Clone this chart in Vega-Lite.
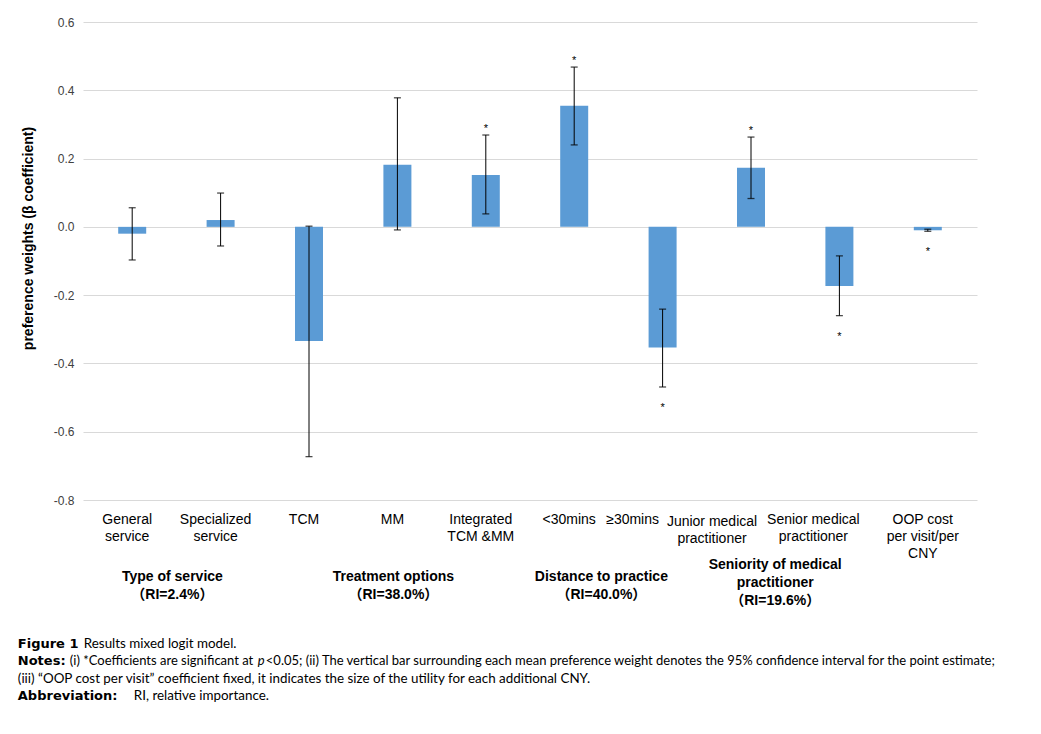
{
  "$schema": "https://vega.github.io/schema/vega-lite/v6.json",
  "width": 894,
  "height": 478,
  "autosize": {"type": "none"},
  "padding": {"left": 83, "top": 22, "right": 64, "bottom": 234},
  "background": "white",
  "config": {"view": {"stroke": null}, "font": "Liberation Sans"},
  "datasets": {
    "coef": [
      {"pos": 1, "attr": "General service", "label": "General\nservice", "group": "Type of service\n（RI=2.4%）", "est": -0.02, "lo": -0.097, "hi": 0.056, "sig": ""},
      {"pos": 2, "attr": "Specialized service", "label": "Specialized\nservice", "group": "Type of service\n（RI=2.4%）", "est": 0.02, "lo": -0.056, "hi": 0.099, "sig": ""},
      {"pos": 3, "attr": "TCM", "label": "TCM", "group": "Treatment options\n（RI=38.0%）", "est": -0.334, "lo": -0.673, "hi": 0.002, "sig": ""},
      {"pos": 4, "attr": "MM", "label": "MM", "group": "Treatment options\n（RI=38.0%）", "est": 0.182, "lo": -0.009, "hi": 0.378, "sig": ""},
      {"pos": 5, "attr": "Integrated TCM &MM", "label": "Integrated\nTCM &MM", "group": "Treatment options\n（RI=38.0%）", "est": 0.152, "lo": 0.038, "hi": 0.269, "sig": "*"},
      {"pos": 6, "attr": "<30mins", "label": "<30mins", "group": "Distance to practice\n（RI=40.0%）", "est": 0.355, "lo": 0.24, "hi": 0.468, "sig": "*"},
      {"pos": 7, "attr": "≥30mins", "label": "≥30mins", "group": "Distance to practice\n（RI=40.0%）", "est": -0.353, "lo": -0.469, "hi": -0.241, "sig": "*"},
      {"pos": 8, "attr": "Junior medical practitioner", "label": "Junior medical\npractitioner", "group": "Seniority of medical\npractitioner\n（RI=19.6%）", "est": 0.173, "lo": 0.083, "hi": 0.263, "sig": "*"},
      {"pos": 9, "attr": "Senior medical practitioner", "label": "Senior medical\npractitioner", "group": "Seniority of medical\npractitioner\n（RI=19.6%）", "est": -0.173, "lo": -0.26, "hi": -0.085, "sig": "*"},
      {"pos": 10, "attr": "OOP cost per visit/per CNY", "label": "OOP cost\nper visit/per\nCNY", "group": "", "est": -0.01, "lo": -0.013, "hi": -0.007, "sig": "*"}
    ],
    "note": [{"k": 1}]
  },
  "layer": [
    {
      "data": {"name": "coef"},
      "mark": {"type": "bar", "size": 28, "color": "#5B9BD5"},
      "encoding": {
        "x": {"field": "pos", "type": "quantitative", "scale": {"domain": [0.5, 10.5], "nice": false, "zero": false}, "axis": null},
        "y": {
          "field": "est", "type": "quantitative",
          "scale": {"domain": [-0.8, 0.6], "nice": false, "zero": false},
          "axis": {
            "title": "preference weights (β coefficient)",
            "values": [-0.8, -0.6, -0.4, -0.2, 0, 0.2, 0.4, 0.6],
            "format": ".1f",
            "labelExpr": "replace(datum.label, '−', '-')",
            "labelFontSize": 12,
            "labelColor": "#404040",
            "labelPadding": 9,
            "grid": true,
            "gridColor": "#d9d9d9",
            "gridWidth": 1,
            "domain": false,
            "ticks": false,
            "tickSize": 0,
            "titleFontSize": 14,
            "titleFontWeight": "bold",
            "titleColor": "#000000",
            "titlePadding": 18,
            "titleY": 216
          }
        }
      }
    },
    {
      "data": {"name": "coef"},
      "mark": {"type": "rule", "color": "#000000", "strokeWidth": 1},
      "encoding": {"x": {"field": "pos", "type": "quantitative"}, "y": {"field": "lo", "type": "quantitative"}, "y2": {"field": "hi"}}
    },
    {
      "data": {"name": "coef"},
      "mark": {"type": "tick", "orient": "horizontal", "size": 7, "thickness": 1.3, "color": "#000000"},
      "encoding": {"x": {"field": "pos", "type": "quantitative"}, "y": {"field": "lo", "type": "quantitative"}}
    },
    {
      "data": {"name": "coef"},
      "mark": {"type": "tick", "orient": "horizontal", "size": 7, "thickness": 1.3, "color": "#000000"},
      "encoding": {"x": {"field": "pos", "type": "quantitative"}, "y": {"field": "hi", "type": "quantitative"}}
    },
    {
      "data": {"name": "coef"},
      "transform": [{"filter": "datum.sig == '*' && datum.est > 0"}],
      "mark": {"type": "text", "fontSize": 11, "baseline": "alphabetic", "dy": -3, "color": "#000000"},
      "encoding": {"x": {"field": "pos", "type": "quantitative"}, "y": {"field": "hi", "type": "quantitative"}, "text": {"field": "sig"}}
    },
    {
      "data": {"name": "coef"},
      "transform": [{"filter": "datum.sig == '*' && datum.est < 0"}],
      "mark": {"type": "text", "fontSize": 11, "baseline": "alphabetic", "dy": 24, "color": "#000000"},
      "encoding": {"x": {"field": "pos", "type": "quantitative"}, "y": {"field": "lo", "type": "quantitative"}, "text": {"field": "sig"}}
    },
    {
      "data": {"name": "coef"},
      "transform": [{"filter": "datum.pos < 7 || datum.pos > 9"}],
      "mark": {"type": "text", "baseline": "top", "align": "center", "lineBreak": "\n", "fontSize": 14, "lineHeight": 17, "color": "#000000", "dx": -5},
      "encoding": {"x": {"field": "pos", "type": "quantitative"}, "y": {"datum": -0.838}, "text": {"field": "label"}}
    },
    {
      "data": {"name": "coef"},
      "transform": [{"filter": "datum.pos == 7"}],
      "mark": {"type": "text", "baseline": "top", "align": "center", "lineBreak": "\n", "fontSize": 14, "lineHeight": 17, "color": "#000000", "dx": -30},
      "encoding": {"x": {"field": "pos", "type": "quantitative"}, "y": {"datum": -0.838}, "text": {"field": "label"}}
    },
    {
      "data": {"name": "coef"},
      "transform": [{"filter": "datum.pos == 8"}],
      "mark": {"type": "text", "baseline": "top", "align": "center", "lineBreak": "\n", "fontSize": 14, "lineHeight": 17, "color": "#000000", "dx": -39},
      "encoding": {"x": {"field": "pos", "type": "quantitative"}, "y": {"datum": -0.844}, "text": {"field": "label"}}
    },
    {
      "data": {"name": "coef"},
      "transform": [{"filter": "datum.pos == 9"}],
      "mark": {"type": "text", "baseline": "top", "align": "center", "lineBreak": "\n", "fontSize": 14, "lineHeight": 17, "color": "#000000", "dx": -26},
      "encoding": {"x": {"field": "pos", "type": "quantitative"}, "y": {"datum": -0.838}, "text": {"field": "label"}}
    },
    {
      "data": {"name": "coef"},
      "transform": [
        {"filter": "datum.group != '' && datum.pos < 6"},
        {"aggregate": [{"op": "mean", "field": "pos", "as": "pos"}], "groupby": ["group"]}
      ],
      "mark": {"type": "text", "baseline": "middle", "align": "center", "lineBreak": "\n", "fontSize": 14, "fontWeight": "bold", "lineHeight": 18, "color": "#000000", "font": "Liberation Sans, Noto Sans CJK SC", "dx": -4},
      "encoding": {"x": {"field": "pos", "type": "quantitative"}, "y": {"datum": -1.0267}, "text": {"field": "group"}}
    },
    {
      "data": {"name": "coef"},
      "transform": [
        {"filter": "datum.group != '' && (datum.pos == 6 || datum.pos == 7)"},
        {"aggregate": [{"op": "mean", "field": "pos", "as": "pos"}], "groupby": ["group"]}
      ],
      "mark": {"type": "text", "baseline": "middle", "align": "center", "lineBreak": "\n", "fontSize": 14, "fontWeight": "bold", "lineHeight": 18, "color": "#000000", "font": "Liberation Sans, Noto Sans CJK SC", "dx": -17},
      "encoding": {"x": {"field": "pos", "type": "quantitative"}, "y": {"datum": -1.0267}, "text": {"field": "group"}}
    },
    {
      "data": {"name": "coef"},
      "transform": [
        {"filter": "datum.group != '' && (datum.pos == 8 || datum.pos == 9)"},
        {"aggregate": [{"op": "mean", "field": "pos", "as": "pos"}], "groupby": ["group"]}
      ],
      "mark": {"type": "text", "baseline": "middle", "align": "center", "lineBreak": "\n", "fontSize": 14, "fontWeight": "bold", "lineHeight": 18, "color": "#000000", "font": "Liberation Sans, Noto Sans CJK SC", "dx": -20},
      "encoding": {"x": {"field": "pos", "type": "quantitative"}, "y": {"datum": -0.9915}, "text": {"field": "group"}}
    },
    {
      "data": {"name": "note"},
      "mark": {"type": "text", "align": "left", "baseline": "middle", "font": "DejaVu Sans", "fontSize": 13, "fontWeight": "bold", "color": "#000000"},
      "encoding": {"x": {"datum": -0.294, "type": "quantitative"}, "y": {"datum": -1.2216, "type": "quantitative"}, "text": {"value": "Figure 1"}}
    },
    {
      "data": {"name": "note"},
      "mark": {"type": "text", "align": "left", "baseline": "middle", "font": "Lato", "fontSize": 13.4, "color": "#000000", "dx": 66},
      "encoding": {"x": {"datum": -0.294, "type": "quantitative"}, "y": {"datum": -1.2216, "type": "quantitative"}, "text": {"value": "Results mixed logit model."}}
    },
    {
      "data": {"name": "note"},
      "mark": {"type": "text", "align": "left", "baseline": "middle", "font": "DejaVu Sans", "fontSize": 13, "fontWeight": "bold", "color": "#000000"},
      "encoding": {"x": {"datum": -0.294, "type": "quantitative"}, "y": {"datum": -1.2729, "type": "quantitative"}, "text": {"value": "Notes:"}}
    },
    {
      "data": {"name": "note"},
      "mark": {"type": "text", "align": "left", "baseline": "middle", "font": "Lato", "fontSize": 13, "color": "#000000", "dx": 52},
      "encoding": {"x": {"datum": -0.294, "type": "quantitative"}, "y": {"datum": -1.2729, "type": "quantitative"}, "text": {"value": "(i) *Coefficients are significant at"}}
    },
    {
      "data": {"name": "note"},
      "mark": {"type": "text", "align": "left", "baseline": "middle", "font": "Lato", "fontSize": 13, "fontStyle": "italic", "color": "#000000", "dx": 240},
      "encoding": {"x": {"datum": -0.294, "type": "quantitative"}, "y": {"datum": -1.2729, "type": "quantitative"}, "text": {"value": "p"}}
    },
    {
      "data": {"name": "note"},
      "mark": {"type": "text", "align": "left", "baseline": "middle", "font": "Lato", "fontSize": 13, "color": "#000000", "dx": 248},
      "encoding": {"x": {"datum": -0.294, "type": "quantitative"}, "y": {"datum": -1.2729, "type": "quantitative"}, "text": {"value": "<0.05; (ii) The vertical bar surrounding each mean preference weight denotes the 95% confidence interval for the point estimate;"}}
    },
    {
      "data": {"name": "note"},
      "mark": {"type": "text", "align": "left", "baseline": "middle", "font": "Lato", "fontSize": 13.4, "color": "#000000"},
      "encoding": {"x": {"datum": -0.294, "type": "quantitative"}, "y": {"datum": -1.3242, "type": "quantitative"}, "text": {"value": "(iii) “OOP cost per visit” coefficient fixed, it indicates the size of the utility for each additional CNY."}}
    },
    {
      "data": {"name": "note"},
      "mark": {"type": "text", "align": "left", "baseline": "middle", "font": "DejaVu Sans", "fontSize": 13, "fontWeight": "bold", "color": "#000000"},
      "encoding": {"x": {"datum": -0.294, "type": "quantitative"}, "y": {"datum": -1.3754, "type": "quantitative"}, "text": {"value": "Abbreviation:"}}
    },
    {
      "data": {"name": "note"},
      "mark": {"type": "text", "align": "left", "baseline": "middle", "font": "Lato", "fontSize": 13.4, "color": "#000000", "dx": 116},
      "encoding": {"x": {"datum": -0.294, "type": "quantitative"}, "y": {"datum": -1.3754, "type": "quantitative"}, "text": {"value": "RI, relative importance."}}
    }
  ]
}
